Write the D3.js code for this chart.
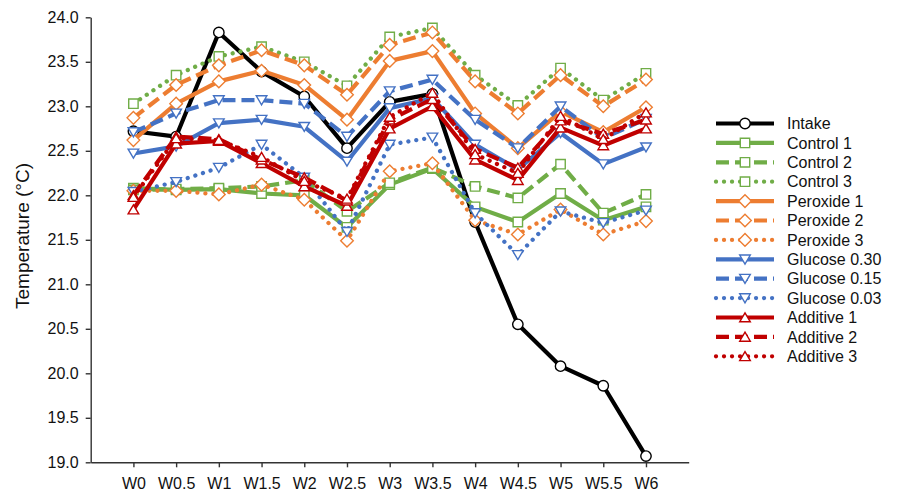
<!DOCTYPE html>
<html>
<head>
<meta charset="utf-8">
<script src="https://cdn.jsdelivr.net/npm/d3@7"></script>
<style>
  html, body { margin: 0; padding: 0; background: #fff; }
  svg { display: block; font-family: "Liberation Sans", Arial, sans-serif; }
</style>
</head>
<body>
<svg id="chart" width="898" height="499"></svg>
<script>
// Weekly temperature readings (°C)
const weeks = ["W0","W0.5","W1","W1.5","W2","W2.5","W3","W3.5","W4","W4.5","W5","W5.5","W6"];

const intake      = [22.72, 22.66, 23.83, 23.39, 23.11, 22.53, 23.05, 23.14, 21.70, 20.55, 20.08, 19.86, 19.07];
const control1    = [22.08, 22.06, 22.07, 22.02, 22.00, 21.64, 22.12, 22.30, 21.87, 21.70, 22.02, 21.72, 21.87];
const control2    = [22.06, 22.07, 22.08, 22.10, 22.17, 21.82, 22.14, 22.31, 22.10, 21.97, 22.35, 21.80, 22.01];
const control3    = [23.03, 23.35, 23.56, 23.67, 23.50, 23.23, 23.78, 23.88, 23.35, 23.01, 23.43, 23.07, 23.37];
const peroxide1   = [22.62, 23.03, 23.28, 23.40, 23.24, 22.85, 23.51, 23.62, 22.92, 22.53, 22.94, 22.71, 22.99];
const peroxide2   = [22.87, 23.24, 23.46, 23.63, 23.46, 23.13, 23.69, 23.83, 23.28, 22.92, 23.35, 23.00, 23.30];
const peroxide3   = [22.05, 22.05, 22.01, 22.12, 21.95, 21.49, 22.27, 22.36, 21.72, 21.56, 21.84, 21.56, 21.71];
const glucose030  = [22.47, 22.55, 22.81, 22.85, 22.77, 22.38, 22.98, 23.09, 22.57, 22.29, 22.70, 22.35, 22.54];
const glucose015  = [22.71, 22.92, 23.07, 23.07, 23.03, 22.66, 23.17, 23.30, 22.85, 22.53, 23.00, 22.64, 22.86];
const glucose003  = [22.04, 22.15, 22.31, 22.57, 22.20, 21.59, 22.57, 22.65, 21.80, 21.33, 21.82, 21.69, 21.83];
const additive1   = [21.84, 22.58, 22.61, 22.36, 22.10, 21.88, 22.75, 23.00, 22.40, 22.17, 22.76, 22.56, 22.75];
const additive2   = [22.00, 22.66, 22.63, 22.40, 22.20, 21.94, 22.85, 23.08, 22.52, 22.31, 22.84, 22.69, 22.85];
const additive3   = [21.98, 22.64, 22.62, 22.43, 22.16, 21.96, 22.88, 23.15, 22.46, 22.25, 22.89, 22.63, 22.93];

const seriesNames = ["Intake","Control 1","Control 2","Control 3","Peroxide 1","Peroxide 2","Peroxide 3",
                     "Glucose 0.30","Glucose 0.15","Glucose 0.03","Additive 1","Additive 2","Additive 3"];
const seriesValues = [intake, control1, control2, control3, peroxide1, peroxide2, peroxide3,
                      glucose030, glucose015, glucose003, additive1, additive2, additive3];

const yTicks = [19.0, 19.5, 20.0, 20.5, 21.0, 21.5, 22.0, 22.5, 23.0, 23.5, 24.0];

// Styling per series
const colors = { black: "#000000", green: "#70AD47", orange: "#ED7D31", blue: "#4472C4", red: "#C00000" };
const styles = [
  { color: colors.black,  dash: "solid",  marker: "circle" },
  { color: colors.green,  dash: "solid",  marker: "square" },
  { color: colors.green,  dash: "dash",   marker: "square" },
  { color: colors.green,  dash: "dot",    marker: "square" },
  { color: colors.orange, dash: "solid",  marker: "diamond" },
  { color: colors.orange, dash: "dash",   marker: "diamond" },
  { color: colors.orange, dash: "dot",    marker: "diamond" },
  { color: colors.blue,   dash: "solid",  marker: "down" },
  { color: colors.blue,   dash: "dash",   marker: "down" },
  { color: colors.blue,   dash: "dot",    marker: "down" },
  { color: colors.red,    dash: "solid",  marker: "up" },
  { color: colors.red,    dash: "dash",   marker: "up" },
  { color: colors.red,    dash: "dot",    marker: "up" }
];

const series = seriesNames.map((name, i) => ({ name, values: seriesValues[i], ...styles[i] }));

const svg = d3.select("#chart");
const plotLeft = 90.7, plotRight = 688.7, plotTop = 17.3, plotBottom = 462.3;

const x = d3.scalePoint().domain(weeks).range([plotLeft, plotRight]).padding(1);
const y = d3.scaleLinear().domain([19, 24]).range([plotBottom, plotTop]);

const axisColor = "#333";

// Y axis
const yAxis = svg.append("g")
  .attr("transform", `translate(${plotLeft},0)`)
  .call(d3.axisLeft(y).tickValues(yTicks).tickFormat(d3.format(".1f"))
        .tickSize(5).tickSizeOuter(0).tickPadding(7));
// X axis
const xAxis = svg.append("g")
  .attr("transform", `translate(0,${plotBottom})`)
  .call(d3.axisBottom(x).tickSize(5).tickSizeOuter(0).tickPadding(10));

[yAxis, xAxis].forEach(g => {
  g.select(".domain").attr("stroke", axisColor).attr("stroke-width", 1.4);
  g.selectAll(".tick line").attr("stroke", axisColor).attr("stroke-width", 1.4);
  g.selectAll(".tick text").attr("fill", "#111").style("font-size", "16px")
    .style("font-family", "'Liberation Sans', Arial, sans-serif");
});

// Axis title
svg.append("text")
  .attr("transform", `translate(29,236) rotate(-90)`)
  .attr("text-anchor", "middle")
  .attr("fill", "#111")
  .style("font-size", "19px")
  .text("Temperature (°C)");

function dashArray(d) {
  if (d === "dash") return "13,6";
  if (d === "dot") return "0.01,8";
  return null;
}

function markerPath(kind) {
  switch (kind) {
    case "square":  return "M-4.7,-4.7H4.7V4.7H-4.7Z";
    case "diamond": return "M0,-6.3L6.3,0L0,6.3L-6.3,0Z";
    case "down":    return "M-5.3,-4.3H5.3L0,4.7Z";
    case "up":      return "M0,-4.7L5.3,4.3H-5.3Z";
    default:        return d3.symbol(d3.symbolCircle, Math.PI * 5.2 * 5.2)();
  }
}

const line = d3.line().x((d, i) => x(weeks[i])).y(d => y(d));

const plot = svg.append("g");
series.forEach(s => {
  const g = plot.append("g");
  g.append("path")
    .datum(s.values)
    .attr("d", line)
    .attr("fill", "none")
    .attr("stroke", s.color)
    .attr("stroke-width", s.dash === "dot" ? 4.3 : 4.2)
    .attr("stroke-linejoin", "round")
    .attr("stroke-linecap", s.dash === "dot" ? "round" : "butt")
    .attr("stroke-dasharray", dashArray(s.dash));
  g.selectAll("path.mk")
    .data(s.values)
    .join("path")
    .attr("class", "mk")
    .attr("transform", (d, i) => `translate(${x(weeks[i])},${y(d)})`)
    .attr("d", markerPath(s.marker))
    .attr("fill", "#fff")
    .attr("stroke", s.color)
    .attr("stroke-width", 1.4);
});

// Legend
const legend = svg.append("g");
const lx0 = 716, lx1 = 774, lmx = 745, ltx = 787, ly0 = 123.5, lstep = 19.4;
series.forEach((s, i) => {
  const yy = ly0 + i * lstep;
  const g = legend.append("g");
  g.append("line")
    .attr("x1", lx0).attr("x2", lx1).attr("y1", yy).attr("y2", yy)
    .attr("stroke", s.color)
    .attr("stroke-width", s.dash === "dot" ? 4.3 : 4.2)
    .attr("stroke-linecap", s.dash === "dot" ? "round" : "butt")
    .attr("stroke-dasharray", dashArray(s.dash));
  g.append("path")
    .attr("transform", `translate(${lmx},${yy})`)
    .attr("d", markerPath(s.marker))
    .attr("fill", "#fff")
    .attr("stroke", s.color)
    .attr("stroke-width", 1.4);
  g.append("text")
    .attr("x", ltx).attr("y", yy).attr("dy", "0.36em")
    .attr("fill", "#111")
    .style("font-size", "16px")
    .text(s.name);
});
</script>
</body>
</html>
